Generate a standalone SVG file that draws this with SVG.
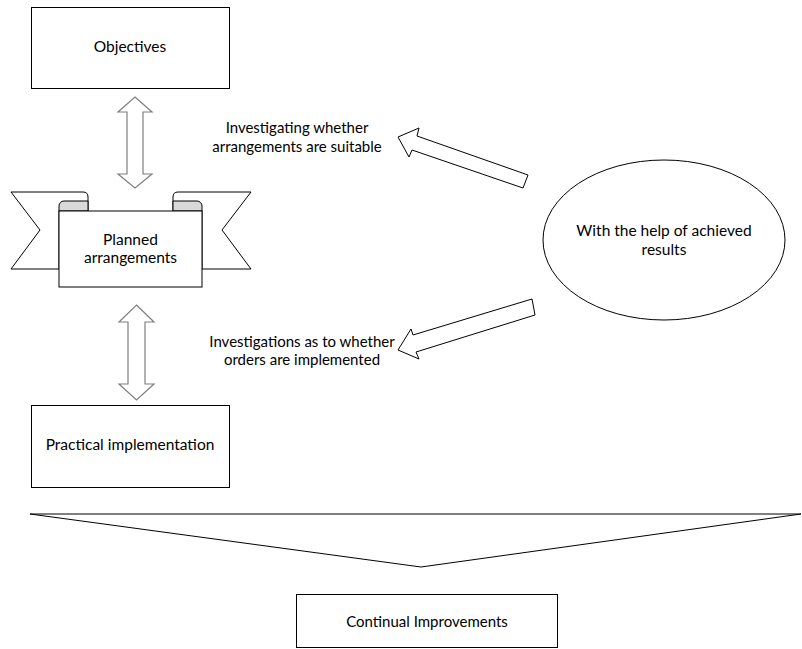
<svg xmlns="http://www.w3.org/2000/svg" width="802" height="649" viewBox="0 0 802 649">
<style>
  .box { fill: #fff; stroke: #000; stroke-width: 1; }
  .ln { fill: #fff; stroke: #000; stroke-width: 1; stroke-linejoin: miter; }
  .dbl { fill: #fff; stroke: #7f7f7f; stroke-width: 1.2; }
  .curl { fill: #d9d9d9; stroke: #000; stroke-width: 1; }
  text { font-family: Lato, "Liberation Sans", sans-serif; font-size: 15.5px; fill: #000; text-anchor: middle; }
  .sm { font-size: 15px; }
</style>
<rect width="802" height="649" fill="#fff"/>

<g id="objectives">
  <rect class="box" x="31.5" y="7.5" width="198" height="81"/>
  <text x="130" y="52">Objectives</text>
</g>

<g id="planned-arrangements">
  <path class="ln" d="M11,192 L83,192 Q88,192 88,197 L88,211 L59,211 L59,269 L11,269 L40,230 Z"/>
  <path class="ln" d="M251,192 L178,192 Q173,192 173,197 L173,211 L202,211 L202,269 L251,269 L222,230 Z"/>
  <path class="curl" d="M59,211 L59,206 A5,5 0 0 1 64,201 L88,201 L88,211 Z"/>
  <path class="curl" d="M202,211 L202,206 A5,5 0 0 0 197,201 L173,201 L173,211 Z"/>
  <rect class="box" x="59" y="211" width="143" height="76"/>
  <text x="130.5" y="245">Planned</text>
  <text x="130.5" y="263">arrangements</text>
</g>

<g id="practical-implementation">
  <rect class="box" x="31.5" y="405.5" width="198" height="82"/>
  <text x="130" y="450">Practical implementation</text>
</g>

<g id="achieved-results">
  <ellipse class="box" cx="664" cy="240" rx="121" ry="80"/>
  <text x="664" y="236">With the help of achieved</text>
  <text x="664" y="255">results</text>
</g>

<g id="continual-improvements">
  <rect class="box" x="296.5" y="594.5" width="261" height="53"/>
  <text class="sm" x="427" y="627">Continual Improvements</text>
</g>

<g id="connectors">
  <polygon class="dbl" points="135,97 152,112 143,112 143,174 152,174 135,188 118,174 127,174 127,112 118,112"/>
  <polygon class="dbl" points="136.5,305 154,322 145,322 145,384 154,384 136.5,400 119,384 128,384 128,322 119,322"/>
  <polygon class="ln" points="398,137 419,128 417,136 528,175 523,188 412,150 409,157"/>
  <polygon class="ln" points="398,350 411,329 413,335 532,299 535,315 416,352 419,359"/>
  <polygon class="ln" points="30,514 801,514 421,567"/>
  <text class="sm" x="297" y="133">Investigating whether</text>
  <text class="sm" x="297" y="152">arrangements are suitable</text>
  <text class="sm" x="302" y="347">Investigations as to whether</text>
  <text class="sm" x="302" y="365">orders are implemented</text>
</g>
</svg>
